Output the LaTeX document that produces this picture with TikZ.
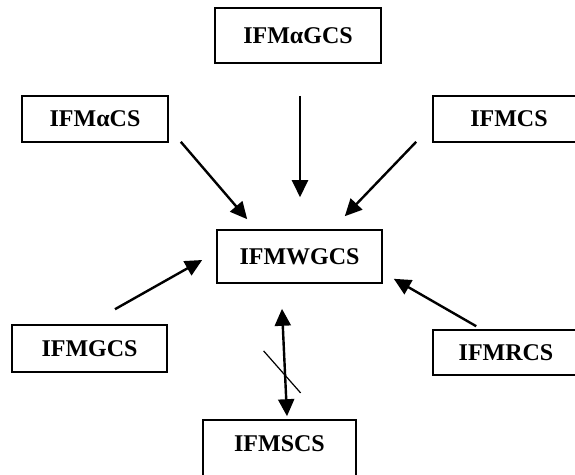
\documentclass[tikz,border=0pt]{standalone}
\usepackage{fontspec}
\setmainfont{Liberation Serif}
\usetikzlibrary{arrows.meta}
\usetikzlibrary{positioning}
\usetikzlibrary{calc}

\tikzset{
  cbox/.style={rectangle, draw=black, line width=1.6pt, inner sep=0pt,
    font=\bfseries\fontsize{24}{28}\selectfont},
  imp/.style={line width=2.4pt, -{Triangle[length=17pt,width=16pt]}},
  biimp/.style={line width=2.4pt, {Triangle[length=17pt,width=16pt]}-{Triangle[length=17pt,width=16pt]}},
}

\begin{document}
\begin{tikzpicture}[x=1pt, y=-1pt]
    \useasboundingbox (0,0) rectangle (575,474);

    % Boxes
    \node[cbox, minimum width=165pt, minimum height=53pt] (wgcs) at (299.5,256.5) {IFMWGCS};
    \node[cbox, minimum width=166pt, minimum height=55pt] (agcs) at (298,35.5) {IFMαGCS};
    \node[cbox, minimum width=146pt, minimum height=46pt] (acs) at (95,119) {IFMαCS};
    \node[cbox, minimum width=152pt, minimum height=46pt] (mcs) at (509,119) {IFMCS};
    \node[cbox, minimum width=155pt, minimum height=47pt] (gcs) at (89.5,348.5) {IFMGCS};
    \node[cbox, minimum width=146pt, minimum height=45pt] (rcs) at (506,352.5) {IFMRCS};
    \node[cbox, minimum width=153pt, minimum height=62pt, text depth=14pt] (scs) at (279.5,451) {IFMSCS};

    % Arrow ends
    \coordinate (agcs-out) at ([shift={(2,32)}]agcs.south);
    \coordinate (wgcs-top) at ([shift={(0.5,-32)}]wgcs.north);
    \coordinate (acs-out) at ([shift={(12,-1)}]acs.south east);
    \coordinate (wgcs-nw) at ([shift={(31,-10)}]wgcs.north west);
    \coordinate (mcs-out) at ([shift={(-16,-1)}]mcs.south west);
    \coordinate (wgcs-ne) at ([shift={(-38,-13)}]wgcs.north east);
    \coordinate (gcs-out) at ([shift={(25.5,-15)}]gcs.north);
    \coordinate (wgcs-w) at ([shift={(-14,3.5)}]wgcs.west);
    \coordinate (rcs-out) at ([shift={(44,-3)}]rcs.north west);
    \coordinate (wgcs-se) at ([shift={(11,-5)}]wgcs.south east);
    \coordinate (wgcs-s) at ([shift={(-17.5,25)}]wgcs.south);
    \coordinate (scs-in) at ([shift={(7.5,-3)}]scs.north);

    % Arrows
    \draw[imp] (agcs-out) -- (wgcs-top);
    \draw[imp] (acs-out) -- (wgcs-nw);
    \draw[imp] (mcs-out) -- (wgcs-ne);
    \draw[imp] (gcs-out) -- (wgcs-w);
    \draw[imp] (rcs-out) -- (wgcs-se);
    \draw[biimp] (wgcs-s) -- (scs-in) coordinate[pos=0.62] (cross);

    % Negation stroke
    \draw[line width=1.2pt] ([shift={(-21.5,-24.5)}]cross) -- ([shift={(15.5,17.5)}]cross);
\end{tikzpicture}
\end{document}
